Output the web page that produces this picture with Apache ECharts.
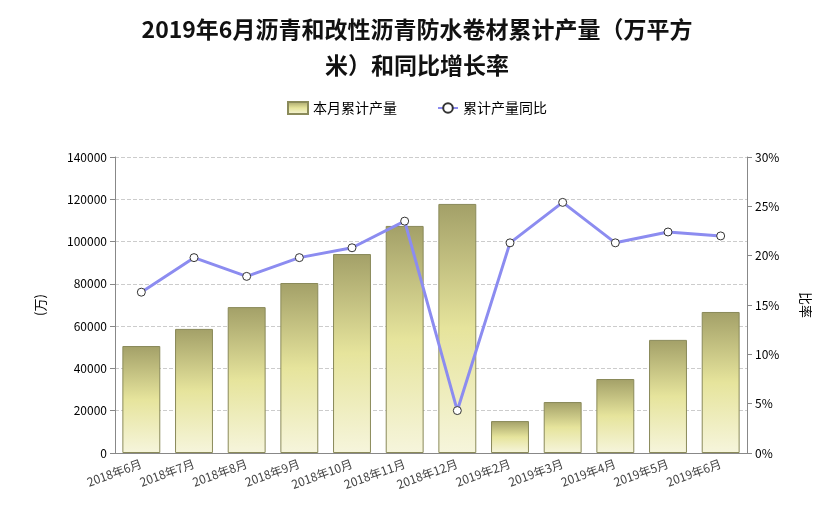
<!DOCTYPE html>
<html>
<head>
<meta charset="UTF-8">
<script src="https://cdn.jsdelivr.net/npm/echarts@6/dist/echarts.min.js"></script>
</head>
<body style="margin:0">
<div id="echart" style="width:834px;height:522px;"></div>
<script>
    const categories = ['2018年6月', '2018年7月', '2018年8月', '2018年9月', '2018年10月', '2018年11月', '2018年12月',
        '2019年2月', '2019年3月', '2019年4月', '2019年5月', '2019年6月'];
    const output = [50600, 58700, 69000, 80400, 94100, 107400, 117800, 15100, 24100, 35000, 53500, 66700];
    const growth = [16.3, 19.8, 17.9, 19.8, 20.8, 23.5, 4.3, 21.3, 25.4, 21.3, 22.4, 22.0];

    const myChart = echarts.init(document.getElementById('echart'));
    const font = 'Noto Sans CJK SC';
    myChart.setOption({
        textStyle: { fontFamily: font },
        title: {
            text: '2019年6月沥青和改性沥青防水卷材累计产量（万平方\n米）和同比增长率',
            left: 'center', top: 6,
            textStyle: { fontSize: 23, fontWeight: 'bold', color: '#111', lineHeight: 36, fontFamily: font }
        },
        legend: {
            top: 96, itemGap: 40, itemWidth: 20, itemHeight: 12,
            textStyle: { fontSize: 14, color: '#000' },
            data: [
                { name: '本月累计产量', icon: 'rect' },
                { name: '累计产量同比' }
            ]
        },
        grid: { left: 115, right: 87, top: 157, bottom: 69 },
        xAxis: {
            type: 'category', data: categories,
            axisLine: { lineStyle: { color: '#888' } },
            axisTick: { show: false },
            axisLabel: { rotate: 20, color: '#444', fontSize: 12, interval: 0, margin: 10 }
        },
        yAxis: [{
            type: 'value', min: 0, max: 140000, interval: 20000,
            name: '(万)', nameLocation: 'middle', nameGap: 68, nameRotate: 90,
            nameTextStyle: { color: '#000', fontSize: 13 },
            axisLine: { show: true, lineStyle: { color: '#888' } },
            axisTick: { show: true },
            axisLabel: { color: '#000', fontSize: 12, formatter: v => String(v) },
            splitLine: { lineStyle: { type: 'dashed', color: '#ccc' } }
        }, {
            type: 'value', min: 0, max: 30, interval: 5,
            name: '比率', nameLocation: 'middle', nameGap: 52, nameRotate: -90,
            nameTextStyle: { color: '#000', fontSize: 13 },
            axisLine: { show: true, lineStyle: { color: '#888' } },
            axisTick: { show: true },
            axisLabel: { formatter: '{value}%', color: '#000', fontSize: 12 },
            splitLine: { show: false }
        }],
        series: [{
            name: '本月累计产量', type: 'bar', data: output, barWidth: '72%',
            itemStyle: {
                borderColor: '#8a8a5a', borderWidth: 1,
                color: new echarts.graphic.LinearGradient(0, 0, 0, 1, [
                    { offset: 0, color: '#a3a068' },
                    { offset: 0.5, color: '#e6e49c' },
                    { offset: 1, color: '#f6f5dc' }
                ])
            }
        }, {
            name: '累计产量同比', type: 'line', yAxisIndex: 1, data: growth,
            symbol: 'circle', symbolSize: 8,
            lineStyle: { color: '#8c8cf0', width: 3 },
            itemStyle: { color: '#fff', borderColor: '#333', borderWidth: 1 }
        }]
    });
</script>
</body>
</html>
